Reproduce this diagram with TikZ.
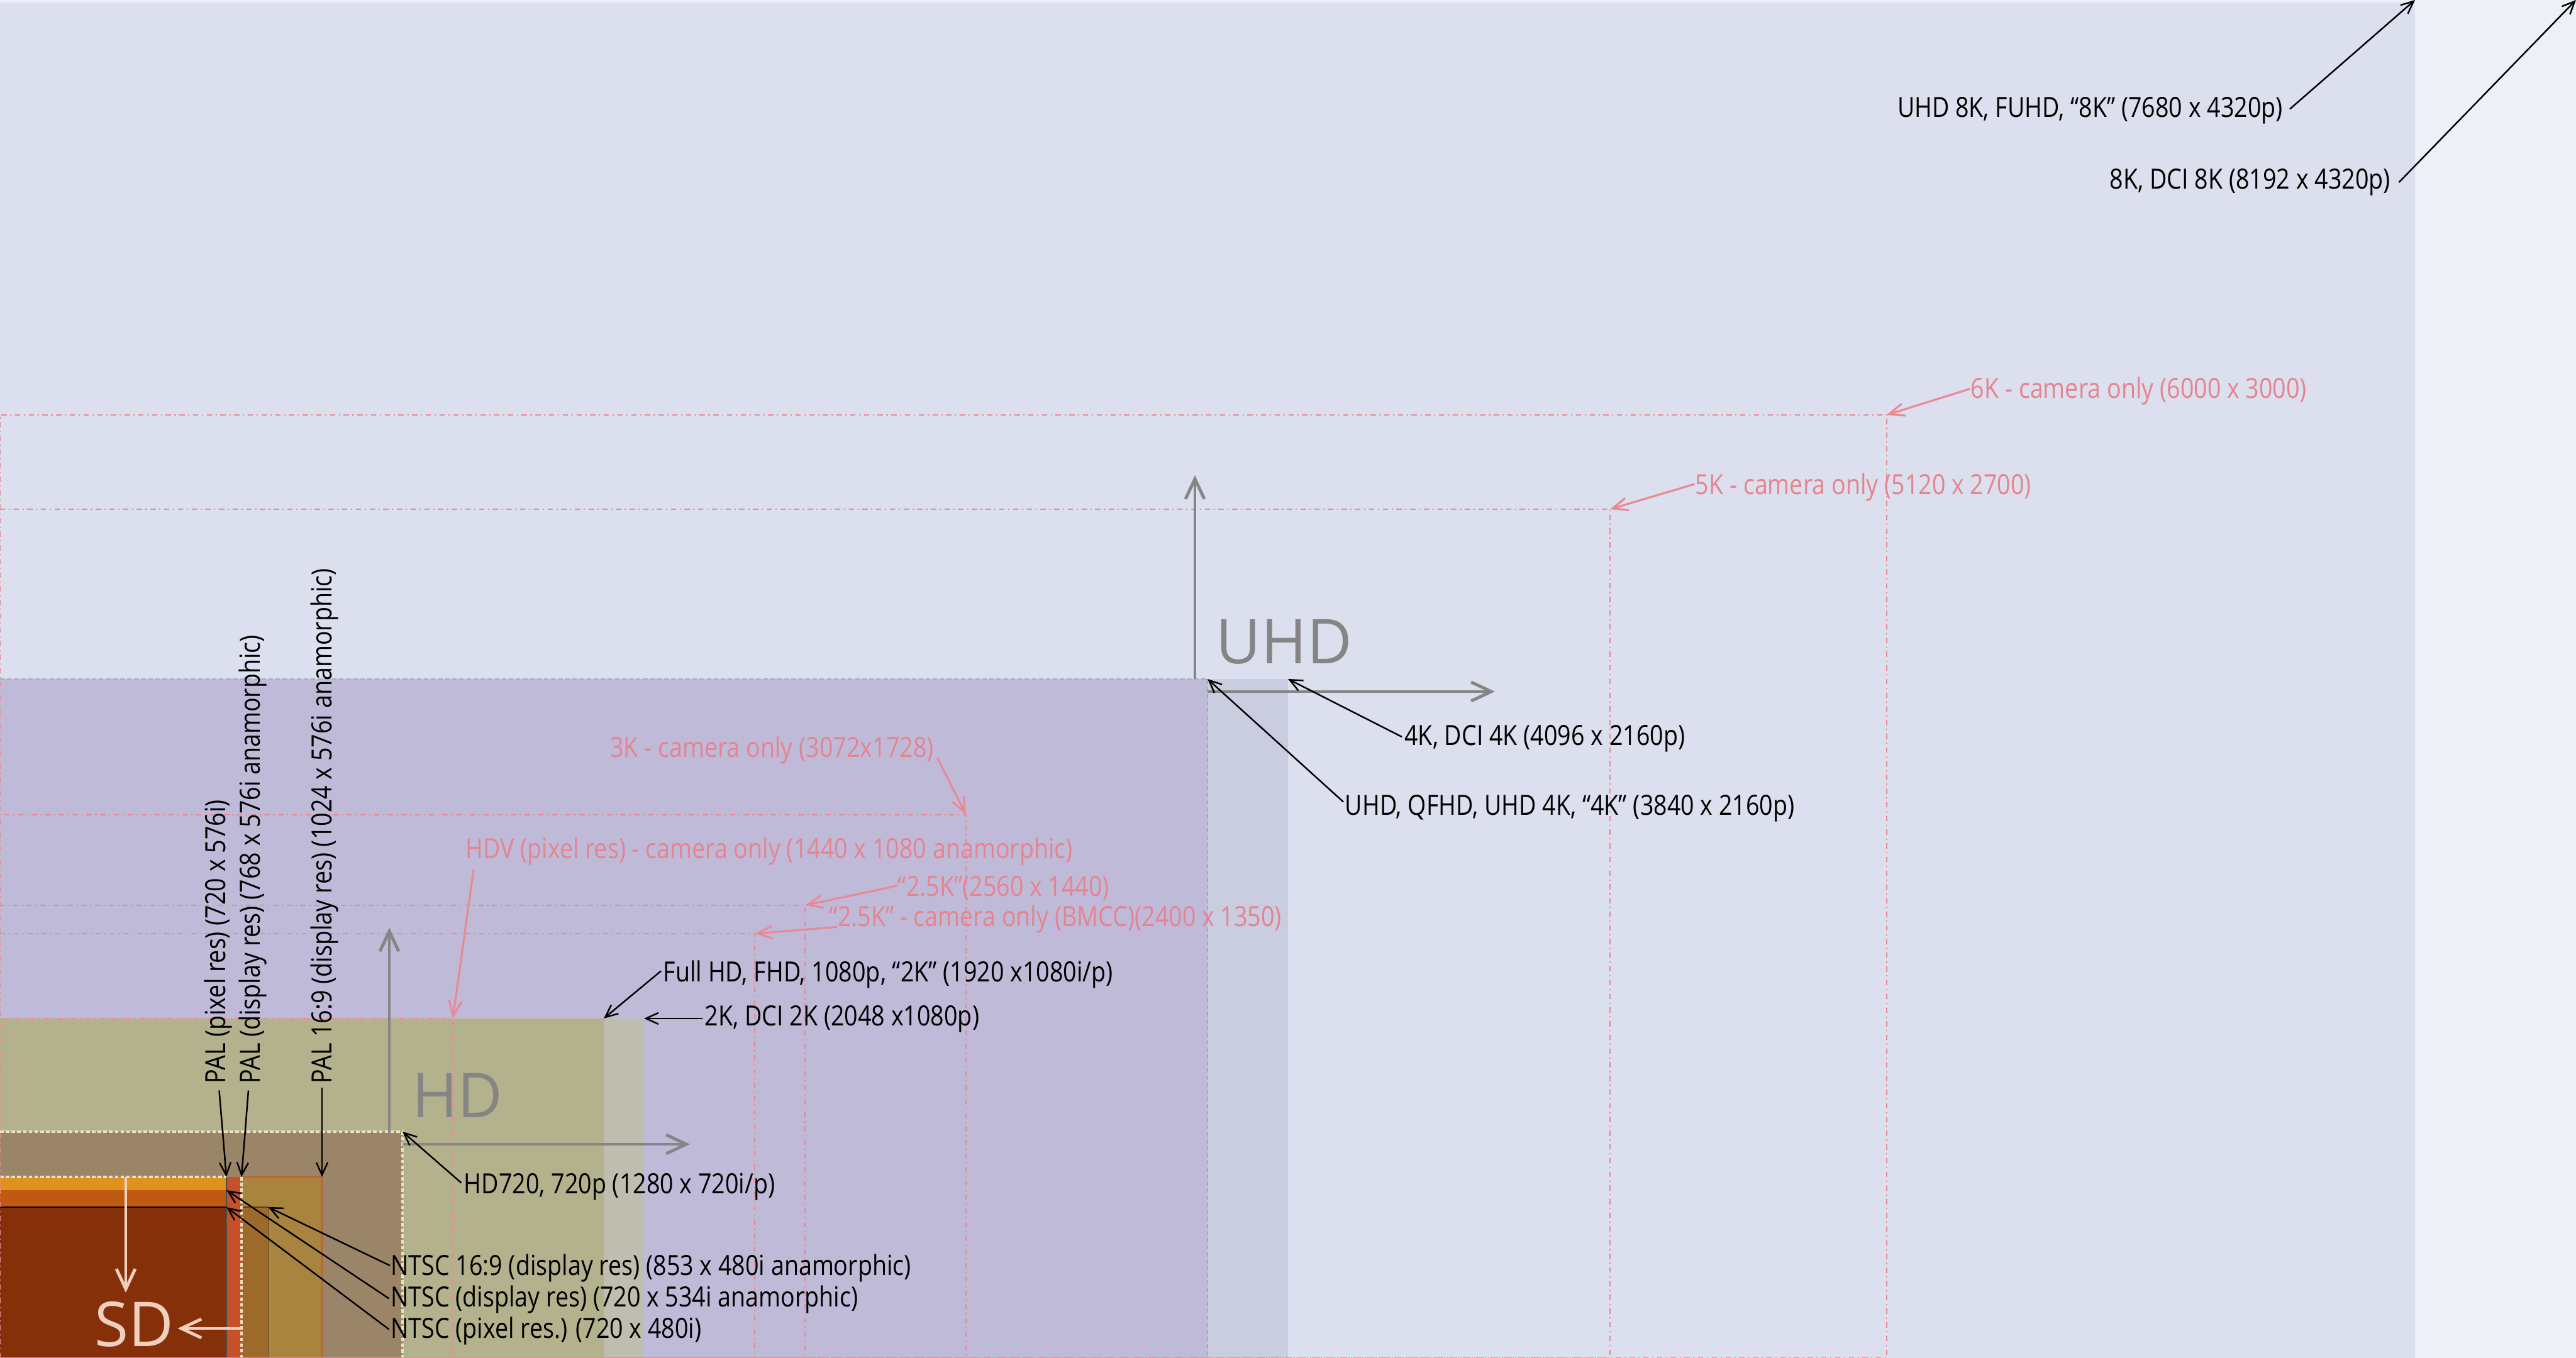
\documentclass[tikz,border=0pt]{standalone}
\usepackage{fontspec}
\setmainfont{Open Sans}
\newfontfamily\labfont{Open Sans}[FakeStretch=0.85]
\newfontfamily\bigfont{Open Sans}
\usetikzlibrary{arrows.meta,calc}
\definecolor{c8192}{HTML}{EDF0F7}
\definecolor{c7680}{HTML}{DCDFED}
\definecolor{c4096}{HTML}{CACCE0}
\definecolor{c3840}{HTML}{C0BAD9}
\definecolor{c2048}{HTML}{BEBDAF}
\definecolor{c1920}{HTML}{B3B28D}
\definecolor{c1280}{HTML}{9B8568}
\definecolor{c1024}{HTML}{A9843F}
\definecolor{c853}{HTML}{9D6A2B}
\definecolor{c768}{HTML}{C6502A}
\definecolor{c720a}{HTML}{DF921E}
\definecolor{c720b}{HTML}{C05912}
\definecolor{c720c}{HTML}{86300A}
\definecolor{pinktxt}{HTML}{E5848E}
\definecolor{pinkline}{HTML}{E88A94}
\definecolor{axisgray}{HTML}{858585}
\definecolor{sdpeach}{HTML}{EFCFBE}
\definecolor{cream}{HTML}{E9E3C4}
\definecolor{uhdborder}{HTML}{A8A6C6}
\begin{document}
\begin{tikzpicture}[x=0.0025cm,y=0.0025cm,
  lab/.style={font=\labfont\fontsize{6.3}{7}\selectfont, inner sep=0pt, text=black},
  plab/.style={lab, text=pinktxt},
  larr/.style={draw=black, line width=0.35pt, -{Straight Barb[length=1mm,width=0.9mm]}},
  parr/.style={draw=pinkline, line width=0.45pt, -{Straight Barb[length=1.2mm,width=1mm]}},
  garr/.style={draw=axisgray, line width=0.7pt, -{Straight Barb[length=1.6mm,width=1.5mm]}},
  sarr/.style={draw=sdpeach, line width=0.7pt, -{Straight Barb[length=1.6mm,width=1.5mm]}},
  biglab/.style={font=\bigfont\fontsize{14}{14}\selectfont, inner sep=0pt},
  camline/.style={draw=pinkline, line width=0.3pt, dash pattern=on 1.2pt off 0.8pt on 0.3pt off 0.8pt},
  creamline/.style={draw=cream, line width=0.5pt, dash pattern=on 0.8pt off 0.5pt},
]
\useasboundingbox (0,0) rectangle (8192,4320);
% resolution areas
\fill[c8192] (0,0) rectangle (8192,4320);
\fill[c7680] (0,0) rectangle (7680,4312);
\fill[c4096] (0,0) rectangle (4096,2160);
\fill[c3840] (0,0) rectangle (3840,2160);
\draw[uhdborder, line width=0.4pt, dash pattern=on 1pt off 0.6pt] (0,2160) -- (3840,2160) -- (3840,0);
\fill[c2048] (0,0) rectangle (2048,1080);
\fill[c1920] (0,0) rectangle (1920,1080);
\fill[c1280] (0,0) rectangle (1280,720);
\fill[c1024] (0,0) rectangle (1024,576);
\draw[c1024!70!red, line width=0.3pt] (768,576) -- (1024,576) -- (1024,0);
\fill[c853] (0,0) rectangle (853,480);
\draw[c853!60!black, line width=0.2pt] (768,480) -- (853,480) -- (853,0);
\fill[c768] (0,0) rectangle (768,576);
\fill[c720a] (0,0) rectangle (720,576);
\fill[c720b] (0,0) rectangle (720,534);
\fill[c720c] (0,0) rectangle (720,480);
\draw[black, line width=0.25pt] (0,480) -- (720,480);
\draw[black!70, line width=0.2pt] (720,0) -- (720,576);
\draw[creamline] (0,720) -- (1280,720) -- (1280,0);
\draw[creamline] (0,576) -- (720,576);
\draw[creamline] (768,576) -- (768,0);
% camera-only frames
\draw[camline] (0,0) rectangle (6000,3000);
\draw[camline] (0,0) rectangle (5120,2700);
\draw[camline] (0,0) rectangle (3072,1728);
\draw[camline] (0,0) rectangle (2560,1440);
\draw[camline] (0,0) rectangle (2400,1350);
\draw[camline] (0,0) rectangle (1440,1080);
% target corners
\coordinate (p8k) at (7680,4320);
\coordinate (p8kdci) at (8192,4320);
\coordinate (p6k) at (6000,3000);
\coordinate (p5k) at (5120,2700);
\coordinate (p4kdci) at (4096,2160);
\coordinate (puhd) at (3840,2160);
\coordinate (p3k) at (3072,1728);
\coordinate (phdv) at (1440,1080);
\coordinate (p25k) at (2560,1440);
\coordinate (pbmcc) at (2400,1350);
\coordinate (pfhd) at (1920,1080);
\coordinate (p2k) at (2048,1080);
\coordinate (p720) at (1280,720);
\coordinate (pn169) at (853,480);
\coordinate (pndisp) at (720,534);
\coordinate (pnpix) at (720,480);
\coordinate (ppal1) at (720,576);
\coordinate (ppal2) at (768,576);
\coordinate (ppal3) at (1024,576);
% axis arrows
\coordinate (uhdv0) at (3800,2160); \coordinate (uhdv1) at (3800,2808);
\coordinate (uhdh0) at (3840,2120); \coordinate (uhdh1) at (4754,2120);
\coordinate (hdv0) at (1238,720); \coordinate (hdv1) at (1238,1369);
\coordinate (hdh0) at (1280,680); \coordinate (hdh1) at (2194,680);
\coordinate (sdv0) at (400,576); \coordinate (sdv1) at (400,208);
\coordinate (sdh0) at (768,94); \coordinate (sdh1) at (565,94);
\draw[garr] (uhdv0) -- (uhdv1);
\draw[garr] (uhdh0) -- (uhdh1);
\draw[garr] (hdv0) -- (hdv1);
\draw[garr] (hdh0) -- (hdh1);
\draw[sarr] (sdv0) -- (sdv1);
\draw[sarr] (sdh0) -- (sdh1);
\node[biglab, text=axisgray, anchor=base west] (uhd) at (3865,2209) {UHD};
\node[biglab, text=axisgray, anchor=base west] (hd) at (1308,765) {HD};
\node[biglab, text=sdpeach, anchor=base west] (sd) at (298,37) {SD};
% labels
\node[lab, anchor=east] (t8k) at (7262,3968) {UHD 8K, FUHD, “8K” (7680 x 4320p)};
\node[lab, anchor=east] (t8kdci) at (7604,3740) {8K, DCI 8K (8192 x 4320p)};
\node[plab, anchor=west] (t6k) at (6265,3075) {6K - camera only (6000 x 3000)};
\node[plab, anchor=west] (t5k) at (5389,2770) {5K - camera only (5120 x 2700)};
\node[lab, anchor=west] (t4kdci) at (4464,1970) {4K, DCI 4K (4096 x 2160p)};
\node[lab, anchor=west] (tuhd) at (4275,1749) {UHD, QFHD, UHD 4K, “4K” (3840 x 2160p)};
\node[plab, anchor=east] (t3k) at (2972,1933) {3K - camera only (3072x1728)};
\node[plab, anchor=west] (thdv) at (1478,1612) {HDV (pixel res) - camera only (1440 x 1080 anamorphic)};
\node[plab, anchor=west] (t25k) at (2853,1495) {“2.5K”(2560 x 1440)};
\node[plab, anchor=west] (tbmcc) at (2635,1396) {“2.5K” - camera only (BMCC)(2400 x 1350)};
\node[lab, anchor=west] (tfhd) at (2107,1220) {Full HD, FHD, 1080p, “2K” (1920 x1080i/p)};
\node[lab, anchor=west] (t2k) at (2239,1078) {2K, DCI 2K (2048 x1080p)};
\node[lab, anchor=west] (t720) at (1473,544) {HD720, 720p (1280 x 720i/p)};
\node[lab, anchor=west] (tn169) at (1240,285) {NTSC 16:9 (display res) (853 x 480i anamorphic)};
\node[lab, anchor=west] (tndisp) at (1240,186) {NTSC (display res) (720 x 534i anamorphic)};
\node[lab, anchor=west] (tnpix) at (1240,86) {NTSC (pixel res.) (720 x 480i)};
\node[lab, anchor=west, rotate=90] (tpal1) at (695,870) {PAL (pixel res) (720 x 576i)};
\node[lab, anchor=west, rotate=90] (tpal2) at (805,870) {PAL (display res) (768 x 576i anamorphic)};
\node[lab, anchor=west, rotate=90] (tpal3) at (1032,870) {PAL 16:9 (display res) (1024 x 576i anamorphic)};
% label arrows
\draw[larr] ($(t8k.east)+(20,5)$) -- (p8k);
\draw[larr] ($(t8kdci.east)+(25,0)$) -- (p8kdci);
\draw[parr] ($(t6k.west)+(0,8)$) -- (p6k);
\draw[parr] ($(t5k.west)+(0,10)$) -- (p5k);
\draw[larr] ($(t4kdci.west)+(-6,6)$) -- (p4kdci);
\draw[larr] ($(tuhd.west)+(-3,20)$) -- (puhd);
\draw[parr] ($(t3k.east)+(9,-24)$) -- (p3k);
\draw[parr] ($(thdv.south west)+(28,-12)$) -- (phdv);
\draw[parr] ($(t25k.west)+(0,7)$) -- (p25k);
\draw[parr] ($(tbmcc.west)+(27,-25)$) -- (pbmcc);
\draw[larr] ($(tfhd.west)+(-5,11)$) -- (pfhd);
\draw[larr] ($(t2k.west)+(-6,2)$) -- (p2k);
\draw[larr] ($(t720.west)+(-6,13)$) -- (p720);
\draw[larr] ($(tn169.west)+(0,9)$) -- (pn169);
\draw[larr] ($(tndisp.west)+(-3,3)$) -- (pndisp);
\draw[larr] ($(tnpix.west)+(-3,5)$) -- (pnpix);
\draw[larr] ($(tpal1.west)+(2,-19)$) -- (ppal1);
\draw[larr] ($(tpal2.west)+(-15,-19)$) -- (ppal2);
\draw[larr] ($(tpal3.west)+(-8,-11)$) -- (ppal3);
\end{tikzpicture}
\end{document}
